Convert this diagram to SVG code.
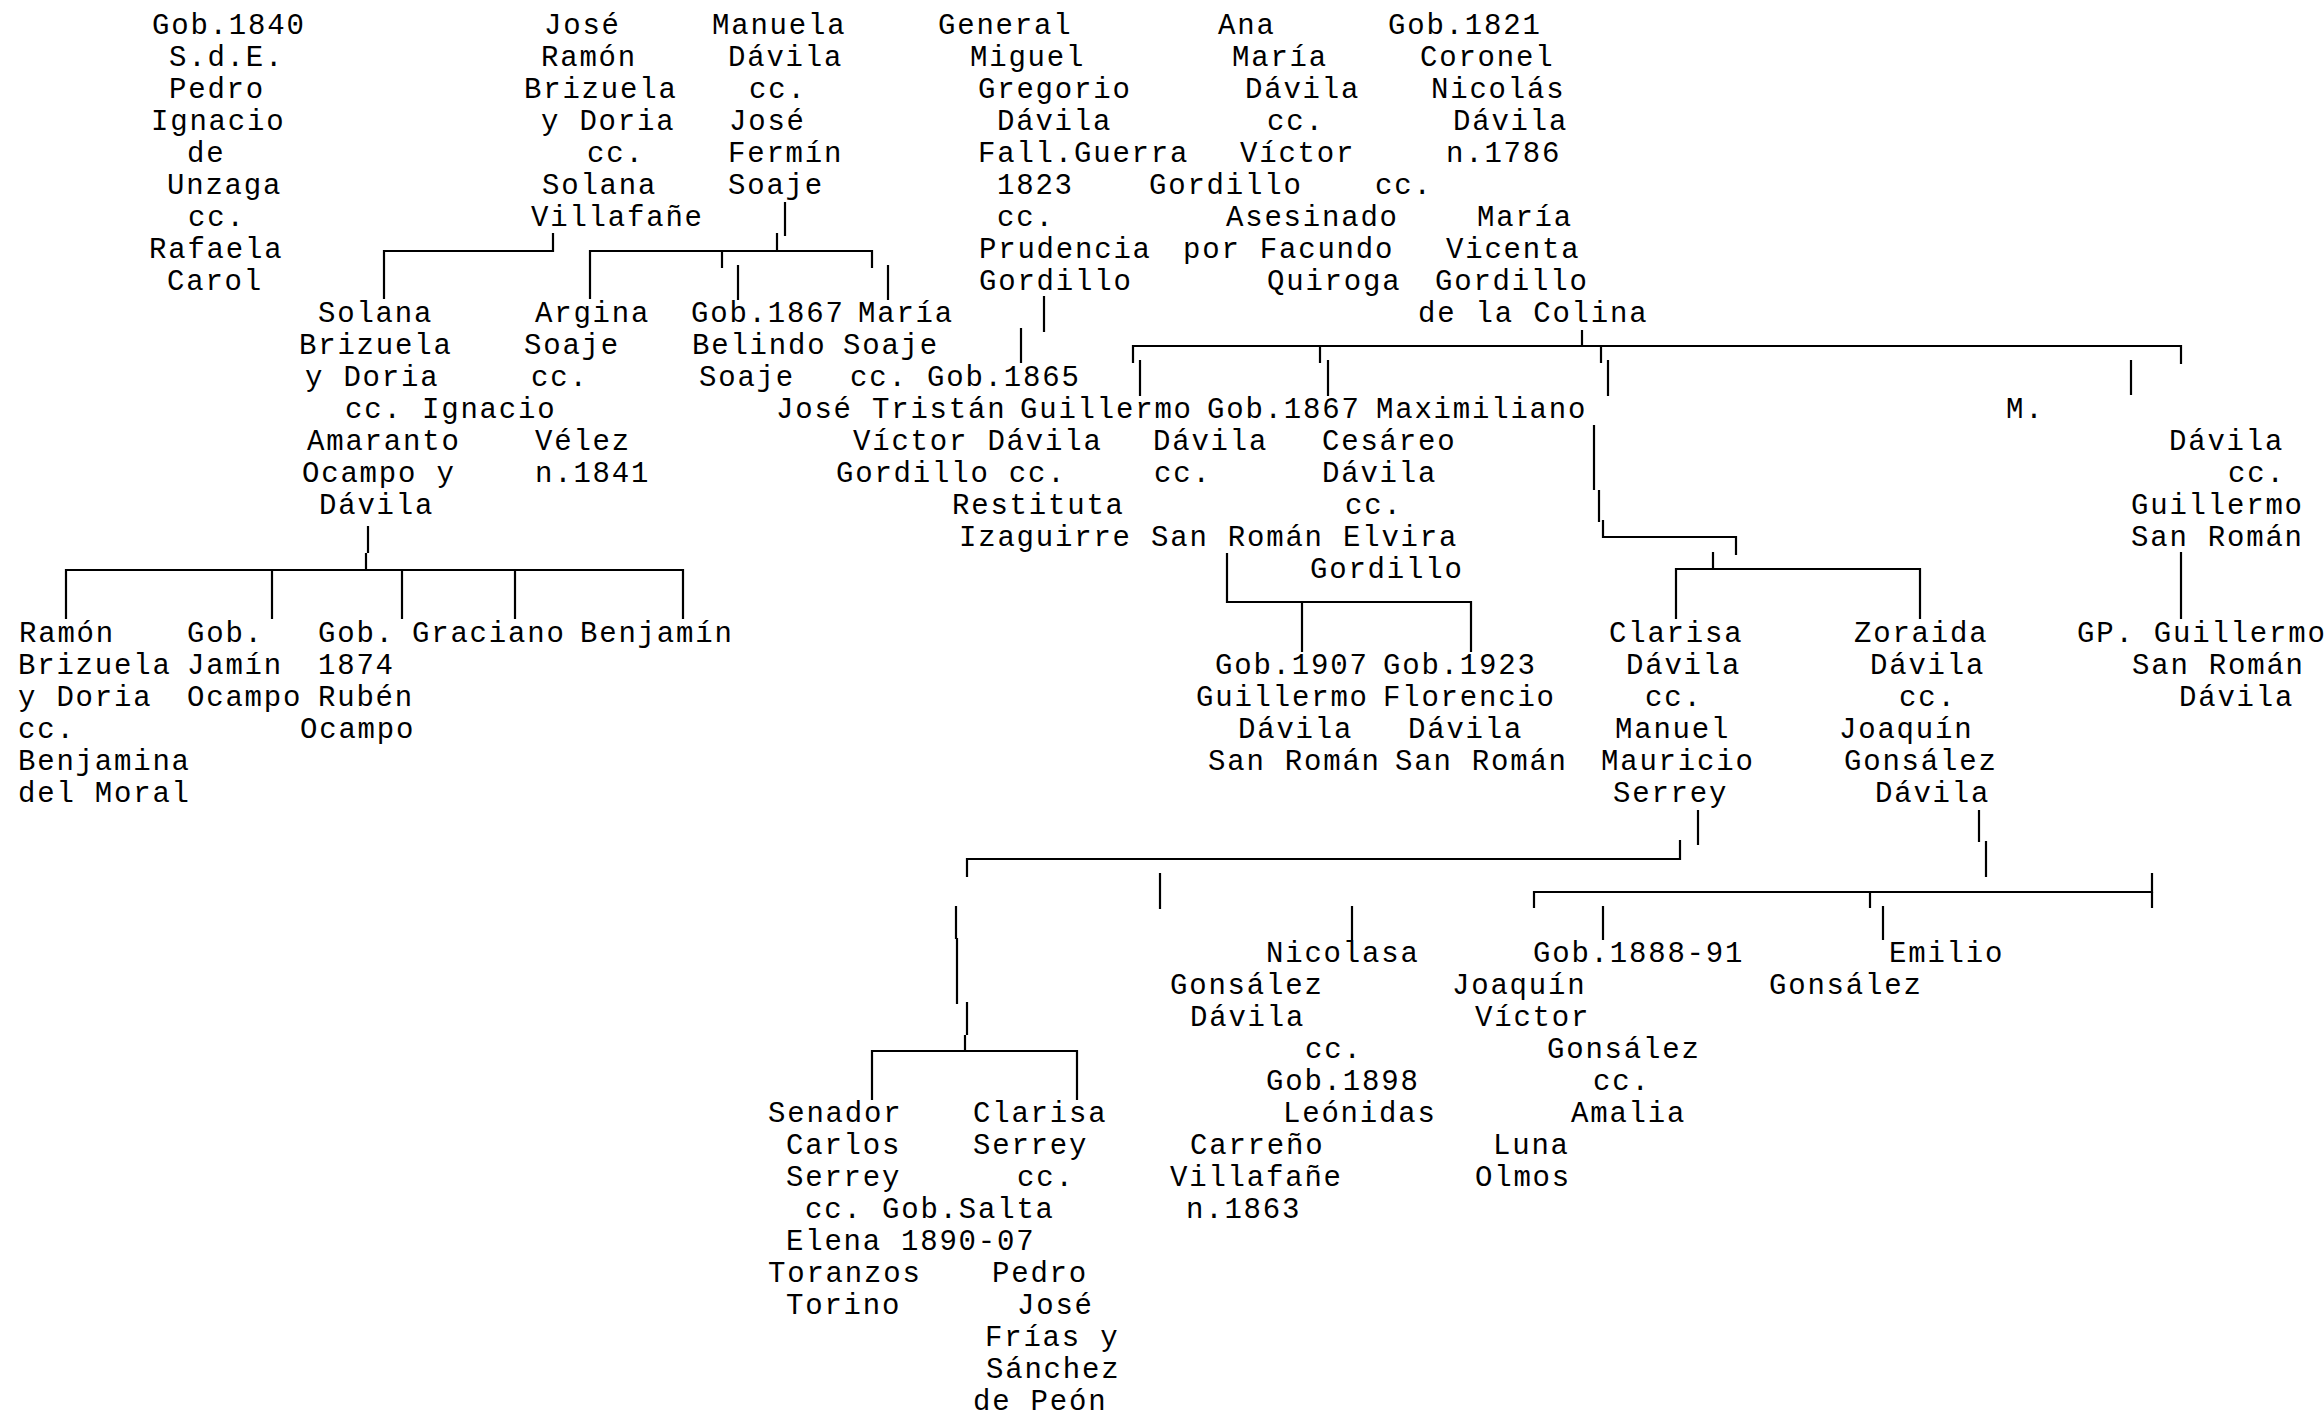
<svg xmlns="http://www.w3.org/2000/svg" width="2324" height="1417" viewBox="0 0 2324 1417">
<style>
text{font-family:"Liberation Mono","Courier New",monospace;font-size:29px;letter-spacing:1.8px;fill:#000}
.c path{fill:none;stroke:#000;stroke-width:2.2}
</style>
<rect width="2324" height="1417" fill="#fff"/>
<g class="c" id="connectors">
<path d="M553,233V251H384V299"/>
<path d="M785,202V236"/><path d="M777,233V251"/>
<path d="M590,299V251H872V268"/><path d="M722,251V268"/><path d="M738,265V300"/><path d="M888,265V300"/>
<path d="M368,526V553"/><path d="M366,553V570"/>
<path d="M66,619V570H683V619"/><path d="M272,570V619"/><path d="M402,570V619"/><path d="M515,570V619"/>
<path d="M1044,296V332"/><path d="M1021,328V363"/>
<path d="M1582,330V346"/><path d="M1133,363V346H2181V364"/>
<path d="M1140,360V396"/><path d="M1320,346V363"/><path d="M1328,360V396"/>
<path d="M1601,346V363"/><path d="M1608,360V396"/><path d="M2131,360V395"/>
<path d="M1594,425V490"/><path d="M1599,490V522"/><path d="M1603,520V537H1736V555"/>
<path d="M1713,552V569"/><path d="M1676,619V569H1920V619"/>
<path d="M1227,553V602H1471V652"/><path d="M1302,602V652"/>
<path d="M2181,552V619"/>
<path d="M1698,810V845"/><path d="M1680,840V859H967V877"/>
<path d="M1160,873V909"/><path d="M1352,906V940"/>
<path d="M956,906V939"/><path d="M957,938V1004"/><path d="M967,1002V1035"/><path d="M965,1035V1051"/>
<path d="M872,1100V1051H1077V1100"/>
<path d="M1979,810V842"/><path d="M1986,841V877"/>
<path d="M1534,908V892H2152V873"/><path d="M2152,892V908"/>
<path d="M1603,906V940"/><path d="M1870,892V908"/><path d="M1883,906V940"/>
</g>
<g id="n-unzaga"><text>
<tspan x="152" y="34">Gob.1840</tspan><tspan x="169" y="66">S.d.E.</tspan><tspan x="169" y="98">Pedro</tspan><tspan x="151" y="130">Ignacio</tspan><tspan x="187" y="162">de</tspan><tspan x="167" y="194">Unzaga</tspan><tspan x="188" y="226">cc.</tspan><tspan x="149" y="258">Rafaela</tspan><tspan x="167" y="290">Carol</tspan>
</text></g>
<g id="n-jose-ramon"><text>
<tspan x="544" y="34">José</tspan><tspan x="541" y="66">Ramón</tspan><tspan x="524" y="98">Brizuela</tspan><tspan x="541" y="130">y Doria</tspan><tspan x="587" y="162">cc.</tspan><tspan x="542" y="194">Solana</tspan><tspan x="531" y="226">Villafañe</tspan>
</text></g>
<g id="n-manuela"><text>
<tspan x="712" y="34">Manuela</tspan><tspan x="728" y="66">Dávila</tspan><tspan x="749" y="98">cc.</tspan><tspan x="729" y="130">José</tspan><tspan x="728" y="162">Fermín</tspan><tspan x="728" y="194">Soaje</tspan>
</text></g>
<g id="n-miguel"><text>
<tspan x="938" y="34">General</tspan><tspan x="970" y="66">Miguel</tspan><tspan x="978" y="98">Gregorio</tspan><tspan x="997" y="130">Dávila</tspan><tspan x="978" y="162">Fall.Guerra</tspan><tspan x="997" y="194">1823</tspan><tspan x="997" y="226">cc.</tspan><tspan x="979" y="258">Prudencia</tspan><tspan x="979" y="290">Gordillo</tspan>
</text></g>
<g id="n-ana-maria"><text>
<tspan x="1218" y="34">Ana</tspan><tspan x="1232" y="66">María</tspan><tspan x="1245" y="98">Dávila</tspan><tspan x="1267" y="130">cc.</tspan><tspan x="1240" y="162">Víctor</tspan><tspan x="1149" y="194">Gordillo</tspan><tspan x="1226" y="226">Asesinado</tspan><tspan x="1183" y="258">por Facundo</tspan><tspan x="1267" y="290">Quiroga</tspan>
</text></g>
<g id="n-nicolas"><text>
<tspan x="1388" y="34">Gob.1821</tspan><tspan x="1420" y="66">Coronel</tspan><tspan x="1431" y="98">Nicolás</tspan><tspan x="1453" y="130">Dávila</tspan><tspan x="1446" y="162">n.1786</tspan><tspan x="1375" y="194">cc.</tspan><tspan x="1477" y="226">María</tspan><tspan x="1446" y="258">Vicenta</tspan><tspan x="1435" y="290">Gordillo</tspan><tspan x="1418" y="322">de la Colina</tspan>
</text></g>
<g id="n-solana"><text>
<tspan x="318" y="322">Solana</tspan><tspan x="299" y="354">Brizuela</tspan><tspan x="305" y="386">y Doria</tspan><tspan x="345" y="418">cc.</tspan><tspan x="307" y="450">Amaranto</tspan><tspan x="302" y="482">Ocampo y</tspan><tspan x="319" y="514">Dávila</tspan>
</text></g>
<g id="n-argina"><text>
<tspan x="535" y="322">Argina</tspan><tspan x="524" y="354">Soaje</tspan><tspan x="531" y="386">cc.</tspan><tspan x="422" y="418">Ignacio</tspan><tspan x="535" y="450">Vélez</tspan><tspan x="535" y="482">n.1841</tspan>
</text></g>
<g id="n-belindo"><text>
<tspan x="691" y="322">Gob.1867</tspan><tspan x="692" y="354">Belindo</tspan><tspan x="699" y="386">Soaje</tspan>
</text></g>
<g id="n-maria-soaje"><text>
<tspan x="858" y="322">María</tspan><tspan x="843" y="354">Soaje</tspan><tspan x="850" y="386">cc.</tspan>
</text></g>
<g id="n-jose-tristan"><text>
<tspan x="927" y="386">Gob.1865</tspan><tspan x="776" y="418">José Tristán</tspan><tspan x="853" y="450">Víctor Dávila</tspan><tspan x="836" y="482">Gordillo cc.</tspan><tspan x="952" y="514">Restituta</tspan><tspan x="959" y="546">Izaguirre</tspan>
</text></g>
<g id="n-guillermo"><text>
<tspan x="1020" y="418">Guillermo</tspan><tspan x="1153" y="450">Dávila</tspan><tspan x="1154" y="482">cc.</tspan><tspan x="1151" y="546">San Román</tspan>
</text></g>
<g id="n-cesareo"><text>
<tspan x="1207" y="418">Gob.1867</tspan><tspan x="1322" y="450">Cesáreo</tspan><tspan x="1322" y="482">Dávila</tspan><tspan x="1345" y="514">cc.</tspan><tspan x="1343" y="546">Elvira</tspan><tspan x="1310" y="578">Gordillo</tspan>
</text></g>
<g id="n-maximiliano"><text>
<tspan x="1376" y="418">Maximiliano</tspan>
</text></g>
<g id="n-m-davila"><text>
<tspan x="2006" y="418">M.</tspan><tspan x="2169" y="450">Dávila</tspan><tspan x="2228" y="482">cc.</tspan><tspan x="2131" y="514">Guillermo</tspan><tspan x="2131" y="546">San Román</tspan>
</text></g>
<g id="n-ramon"><text>
<tspan x="19" y="642">Ramón</tspan><tspan x="18" y="674">Brizuela</tspan><tspan x="18" y="706">y Doria</tspan><tspan x="18" y="738">cc.</tspan><tspan x="18" y="770">Benjamina</tspan><tspan x="18" y="802">del Moral</tspan>
</text></g>
<g id="n-jamin"><text>
<tspan x="187" y="642">Gob.</tspan><tspan x="187" y="674">Jamín</tspan><tspan x="187" y="706">Ocampo</tspan>
</text></g>
<g id="n-ruben"><text>
<tspan x="318" y="642">Gob.</tspan><tspan x="318" y="674">1874</tspan><tspan x="318" y="706">Rubén</tspan><tspan x="300" y="738">Ocampo</tspan>
</text></g>
<g id="n-graciano"><text><tspan x="412" y="642">Graciano</tspan></text></g>
<g id="n-benjamin"><text><tspan x="580" y="642">Benjamín</tspan></text></g>
<g id="n-gob1907"><text>
<tspan x="1215" y="674">Gob.1907</tspan><tspan x="1196" y="706">Guillermo</tspan><tspan x="1238" y="738">Dávila</tspan><tspan x="1208" y="770">San Román</tspan>
</text></g>
<g id="n-gob1923"><text>
<tspan x="1383" y="674">Gob.1923</tspan><tspan x="1383" y="706">Florencio</tspan><tspan x="1408" y="738">Dávila</tspan><tspan x="1395" y="770">San Román</tspan>
</text></g>
<g id="n-clarisa"><text>
<tspan x="1609" y="642">Clarisa</tspan><tspan x="1626" y="674">Dávila</tspan><tspan x="1645" y="706">cc.</tspan><tspan x="1615" y="738">Manuel</tspan><tspan x="1601" y="770">Mauricio</tspan><tspan x="1613" y="802">Serrey</tspan>
</text></g>
<g id="n-zoraida"><text>
<tspan x="1854" y="642">Zoraida</tspan><tspan x="1870" y="674">Dávila</tspan><tspan x="1899" y="706">cc.</tspan><tspan x="1839" y="738">Joaquín</tspan><tspan x="1844" y="770">Gonsález</tspan><tspan x="1875" y="802">Dávila</tspan>
</text></g>
<g id="n-gp-guillermo"><text>
<tspan x="2077" y="642">GP. Guillermo</tspan><tspan x="2132" y="674">San Román</tspan><tspan x="2179" y="706">Dávila</tspan>
</text></g>
<g id="n-nicolasa"><text>
<tspan x="1266" y="962">Nicolasa</tspan><tspan x="1170" y="994">Gonsález</tspan><tspan x="1190" y="1026">Dávila</tspan><tspan x="1305" y="1058">cc.</tspan><tspan x="1266" y="1090">Gob.1898</tspan><tspan x="1283" y="1122">Leónidas</tspan><tspan x="1190" y="1154">Carreño</tspan><tspan x="1170" y="1186">Villafañe</tspan><tspan x="1186" y="1218">n.1863</tspan>
</text></g>
<g id="n-joaquin-victor"><text>
<tspan x="1533" y="962">Gob.1888-91</tspan><tspan x="1452" y="994">Joaquín</tspan><tspan x="1475" y="1026">Víctor</tspan><tspan x="1547" y="1058">Gonsález</tspan><tspan x="1593" y="1090">cc.</tspan><tspan x="1571" y="1122">Amalia</tspan><tspan x="1493" y="1154">Luna</tspan><tspan x="1475" y="1186">Olmos</tspan>
</text></g>
<g id="n-emilio"><text>
<tspan x="1889" y="962">Emilio</tspan><tspan x="1769" y="994">Gonsález</tspan>
</text></g>
<g id="n-senador"><text>
<tspan x="768" y="1122">Senador</tspan><tspan x="786" y="1154">Carlos</tspan><tspan x="786" y="1186">Serrey</tspan><tspan x="805" y="1218">cc.</tspan><tspan x="786" y="1250">Elena</tspan><tspan x="768" y="1282">Toranzos</tspan><tspan x="786" y="1314">Torino</tspan>
</text></g>
<g id="n-clarisa-serrey"><text>
<tspan x="973" y="1122">Clarisa</tspan><tspan x="973" y="1154">Serrey</tspan><tspan x="1017" y="1186">cc.</tspan><tspan x="882" y="1218">Gob.Salta</tspan><tspan x="901" y="1250">1890-07</tspan><tspan x="992" y="1282">Pedro</tspan><tspan x="1017" y="1314">José</tspan><tspan x="985" y="1346">Frías y</tspan><tspan x="986" y="1378">Sánchez</tspan><tspan x="973" y="1410">de Peón</tspan>
</text></g>
</svg>
